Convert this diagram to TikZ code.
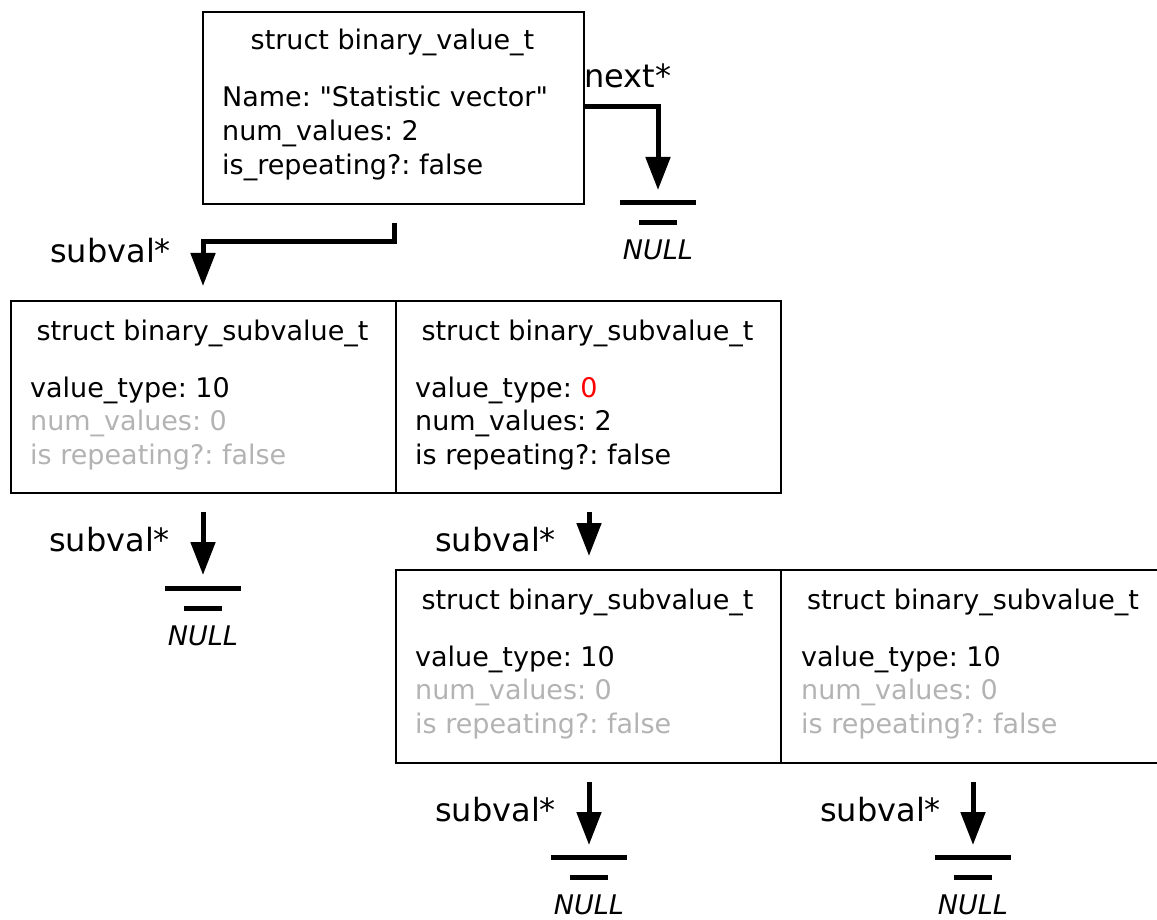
\documentclass[tikz,border=0pt]{standalone}
\usepackage{fontspec}
\setmainfont{DejaVu Sans}[Ligatures=TeXOff]
\usetikzlibrary{arrows.meta}

\definecolor{faded}{HTML}{B3B3B3}
\definecolor{hot}{HTML}{FF0000}

\tikzset{
  structbox/.style={draw=black, line width=1.8pt, rectangle, inner sep=0pt, anchor=north west},
  boxtitle/.style={anchor=base, inner sep=0pt, font=\fontsize{27}{33.5}\selectfont},
  field/.style={anchor=base west, inner sep=0pt, font=\fontsize{27}{33.5}\selectfont},
  dimfield/.style={field, text=faded},
  ptrlabel/.style={anchor=base west, inner sep=0pt, font=\fontsize{32}{38}\selectfont},
  ptr/.style={line width=5pt, miter limit=10, -{Triangle[length=33pt,width=24pt]}},
  bar/.style={line width=5pt},
  nulltxt/.style={anchor=base, inner sep=0pt, font=\fontsize{27}{33.5}\selectfont\itshape},
  nullsym/.pic={
    \draw[bar] (-38,0) -- (38,0);
    \draw[bar] (-19,20) -- (19,20);
    \node[nulltxt] (txt) at (0,57) {NULL};
  }
}

\begin{document}
\frenchspacing
\begin{tikzpicture}[x=1pt, y=-1pt]
\useasboundingbox (0,0) rectangle (1157,920);
\begin{scope}
\clip (0,0) rectangle (1157,920);

% ---- top level value ----
\node[structbox, minimum width=381pt, minimum height=192pt] (val) at (202,11) {};
\node[boxtitle] (valT) at (392.5,50) {struct binary\_value\_t};
\node[field] (valF1) at (222,107) {Name: "Statistic vector"};
\node[field] (valF2) at (222,141) {num\_values: 2};
\node[field] (valF3) at (222,175) {is\_repeating?: false};

% next pointer of the top value
\coordinate (nextBend) at (658,107);
\coordinate (nextEnd) at (658,190);
\draw[ptr] (val.east |- nextBend) -- (nextBend) -- (nextEnd);
\node[ptrlabel] (nextL) at (584,88) {next*};
\pic (gTop) at (658,203) {nullsym};

% ---- first row of subvalues ----
\node[structbox, minimum width=385pt, minimum height=192pt] (subA) at (10,300) {};
\node[boxtitle] (subAT) at (202.5,340) {struct binary\_subvalue\_t};
\node[field] (subAF1) at (30,397) {value\_type: 10};
\node[dimfield] (subAF2) at (30,430.5) {num\_values: 0};
\node[dimfield] (subAF3) at (30,464) {is repeating?: false};

\node[structbox, minimum width=385pt, minimum height=192pt] (subB) at (395,300) {};
\node[boxtitle] (subBT) at (587.5,340) {struct binary\_subvalue\_t};
\node[field] (subBF1) at (415,397) {value\_type: \textcolor{hot}{0}};
\node[field] (subBF2) at (415,430.5) {num\_values: 2};
\node[field] (subBF3) at (415,464) {is repeating?: false};

% subval pointer of the top value
\coordinate (valOut) at (394,223);
\coordinate (valBend) at (394,242);
\coordinate (valEnd) at (203,286);
\draw[ptr] (valOut) -- (valBend) -- (valEnd |- valBend) -- (valEnd);
\node[ptrlabel] (valL) at (50,262) {subval*};

% subval pointer of the first subvalue (NULL)
\coordinate (aOut) at (203,512);
\coordinate (aEnd) at (203,575);
\draw[ptr] (aOut) -- (aEnd);
\node[ptrlabel] (aL) at (49,551) {subval*};
\pic (gA) at (203,588) {nullsym};

% ---- second row of subvalues ----
\node[structbox, minimum width=385pt, minimum height=193pt] (subC) at (395,569) {};
\node[boxtitle] (subCT) at (587.5,609) {struct binary\_subvalue\_t};
\node[field] (subCF1) at (415,666) {value\_type: 10};
\node[dimfield] (subCF2) at (415,699.5) {num\_values: 0};
\node[dimfield] (subCF3) at (415,733) {is repeating?: false};

\node[structbox, minimum width=386pt, minimum height=193pt] (subD) at (780,569) {};
\node[boxtitle] (subDT) at (973,609) {struct binary\_subvalue\_t};
\node[field] (subDF1) at (801,666) {value\_type: 10};
\node[dimfield] (subDF2) at (801,699.5) {num\_values: 0};
\node[dimfield] (subDF3) at (801,733) {is repeating?: false};

% subval pointer of the second subvalue
\coordinate (bOut) at (589,512);
\coordinate (bEnd) at (589,556);
\draw[ptr] (bOut) -- (bEnd);
\node[ptrlabel] (bL) at (435,551) {subval*};

% subval pointers of the last two subvalues (NULL)
\coordinate (cOut) at (589,782);
\coordinate (cEnd) at (589,845);
\draw[ptr] (cOut) -- (cEnd);
\node[ptrlabel] (cL) at (435,821) {subval*};
\pic (gC) at (589,857) {nullsym};

\coordinate (dOut) at (973,782);
\coordinate (dEnd) at (973,845);
\draw[ptr] (dOut) -- (dEnd);
\node[ptrlabel] (dL) at (820,821) {subval*};
\pic (gD) at (973,857) {nullsym};
\end{scope}
\end{tikzpicture}
\end{document}
